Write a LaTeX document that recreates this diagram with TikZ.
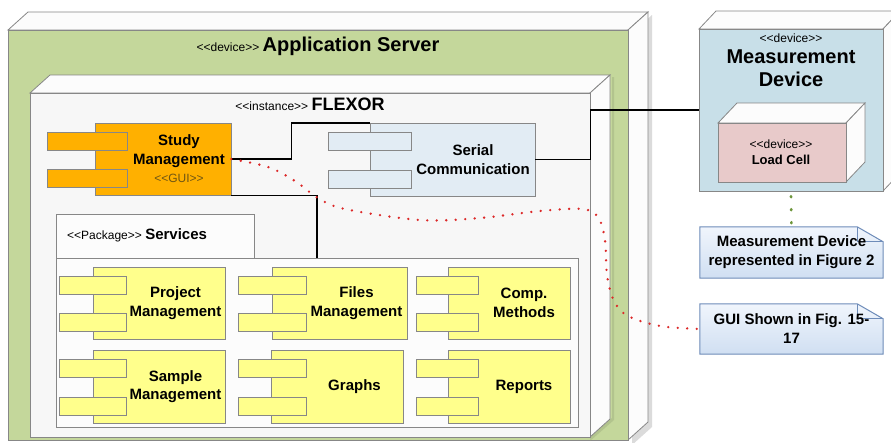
\documentclass[tikz,border=0pt]{standalone}
\usepackage{fontspec}
\setmainfont{Liberation Sans}
\usetikzlibrary{fit}
\definecolor{grn}{RGB}{196,215,155}
\definecolor{edge}{RGB}{135,135,135}
\definecolor{orng}{RGB}{255,176,0}
\definecolor{ylw}{RGB}{255,255,140}
\definecolor{serialc}{RGB}{226,236,244}
\definecolor{mdc}{RGB}{200,223,232}
\definecolor{lcc}{RGB}{232,202,202}
\definecolor{notec}{RGB}{208,223,242}
\definecolor{notetop}{RGB}{240,245,252}
\definecolor{notee}{RGB}{110,140,185}
\definecolor{reddot}{RGB}{220,40,40}
\definecolor{grndot}{RGB}{110,150,60}
\definecolor{guic}{RGB}{110,85,20}
\definecolor{flexfront}{RGB}{247,247,247}
\definecolor{facec}{RGB}{252,252,252}
\newcommand\lguil{<\kern0pt<}
\newcommand\rguil{>\kern0pt>}
\newcommand\stereofont{\mdseries\fontsize{12}{14}\selectfont}
% 3D box: x1 y1 x2 y2 dx dy frontfill facefill
\newcommand\boxthree[8]{%
  \filldraw[fill=#8, draw=edge, line width=0.8pt] (#1,#2) -- (#1+#5,#2-#6) -- (#3+#5,#2-#6) -- (#3,#2) -- cycle;
  \filldraw[fill=#8, draw=edge, line width=0.8pt] (#3,#2) -- (#3+#5,#2-#6) -- (#3+#5,#4-#6) -- (#3,#4) -- cycle;
  \filldraw[fill=#7, draw=edge, line width=0.8pt] (#1,#2) rectangle (#3,#4);
}
% component: name fill bx1 by1 bx2 by2 px1 px2 text
\newcommand\umlcomp[9]{%
  \node[compbody, fill=#2, fit={(#3,#4) (#5,#6)}] (#1) {};
  \node[compbody, fill=#2, fit={(#7,#4+9) (#8,#4+27)}] (#1p1) {};
  \node[compbody, fill=#2, fit={(#7,#6-26) (#8,#6-8)}] (#1p2) {};
  \node[comptext] (#1t) at ({(#8+#5)/2},{(#4+#6)/2}) {#9};
}
\newcommand\notebox[1]{%
  \shade[top color=notetop, bottom color=notec] (#1.north west) -- ([xshift=-26pt]#1.north east) -- ([yshift=-15pt]#1.north east) -- (#1.south east) -- (#1.south west) -- cycle;
  \draw[notee, line width=1pt] (#1.north west) -- ([xshift=-26pt]#1.north east) -- ([yshift=-15pt]#1.north east) -- (#1.south east) -- (#1.south west) -- cycle;
  \draw[notee, line width=0.8pt] ([xshift=-26pt]#1.north east) |- ([yshift=-15pt]#1.north east);
}
\begin{document}
\begin{tikzpicture}[x=1pt,y=-1pt,
  compbody/.style={draw=edge, line width=0.8pt, inner sep=0pt},
  comptext/.style={align=center, inner sep=0pt, font=\bfseries\fontsize{15}{18.5}\selectfont},
  pkg/.style={draw=edge, line width=0.8pt, fill=facec, inner sep=0pt},
  conn/.style={line width=1.8pt, black},
  reddots/.style={draw=reddot, line width=2.6pt, line cap=round, dash pattern=on 0pt off 9.5pt},
  grndots/.style={draw=grndot, line width=2.6pt, line cap=round, dash pattern=on 1pt off 12pt},
  notetext/.style={align=center, inner sep=0pt, font=\bfseries\fontsize{15}{19}\selectfont}]
\clip (0,0) rectangle (891,442);
\fill[white] (0,0) rectangle (891,442);

% Application Server
\fill[black!14] (632,33) -- (652,15) -- (652,427) -- (632,445) -- cycle;
\boxthree{8}{30}{628}{440}{20}{18}{grn}{facec}
\node[fit={(8,30) (628,440)}, inner sep=0pt] (app) {};
\node[anchor=base, inner sep=0pt] (apptitle) at (318,51) {\stereofont\lguil device\rguil\ \bfseries\fontsize{20}{24}\selectfont Application Server};

% FLEXOR
\fill[grn!75!black, opacity=0.35] (612,77) -- (614,77) -- (614,420) -- (590,441) -- (590,437) -- (612,418) -- cycle;
\boxthree{30}{93}{590}{437}{20}{18}{flexfront}{facec}
\node[fit={(30,93) (590,437)}, inner sep=0pt] (flexor) {};
\node[anchor=base, inner sep=0pt] (flextitle) at (310,110) {\stereofont\lguil instance\rguil\ \bfseries\fontsize{18}{22}\selectfont FLEXOR};

% Services package
\node[pkg, fit={(56,214) (254,258)}] (svctab) {};
\node[pkg, fit={(56,258) (578,427)}] (svc) {};
\node[anchor=base west, inner sep=0pt] (svclabel) at (67,239) {\stereofont\lguil Package\rguil\ \bfseries\fontsize{15}{18}\selectfont Services};

% components
\umlcomp{study}{orng}{95}{123}{231}{195}{47}{127}{Study\\Management\\{\stereofont\color{guic}\lguil GUI\rguil}}
\umlcomp{serial}{serialc}{370}{123}{535}{196}{328}{411}{Serial\\Communication}
\umlcomp{proj}{ylw}{93}{267}{225}{339}{59}{126}{Project\\Management}
\umlcomp{files}{ylw}{272}{267}{407}{339}{238}{306}{Files\\Management}
\umlcomp{compm}{ylw}{448}{267}{570}{339}{416}{478}{Comp.\\Methods}
\umlcomp{sample}{ylw}{93}{350}{225}{423}{59}{126}{Sample\\Management}
\umlcomp{graphs}{ylw}{271}{350}{403}{423}{238}{306}{Graphs}
\umlcomp{reports}{ylw}{448}{350}{570}{423}{416}{478}{Reports}

% Measurement Device
\boxthree{699}{29}{883}{191}{17}{18}{mdc}{facec}
\node[fit={(699,29) (883,191)}, inner sep=0pt] (md) {};
\node[inner sep=0pt] (mdst) at (791,38) {\stereofont\lguil device\rguil};
\node[align=center, inner sep=0pt, font=\bfseries\fontsize{20}{23}\selectfont] (mdname) at (791,68.5) {Measurement\\Device};

% Load Cell
\boxthree{718}{123}{846}{182}{19}{20}{lcc}{facec}
\node[fit={(718,123) (846,182)}, inner sep=0pt] (lc) {};
\node[inner sep=0pt] (lcst) at (781,144) {\stereofont\lguil device\rguil};
\node[inner sep=0pt, font=\bfseries\fontsize{13}{15}\selectfont] (lcname) at (781,159.5) {Load Cell};

% Notes
\path node[minimum width=183pt, minimum height=51pt, inner sep=0pt] (note1) at (791.5,252.5) {};
\notebox{note1}
\node[notetext] (note1t) at (note1.center) {Measurement Device\\represented in Figure 2};
\path node[minimum width=183pt, minimum height=50pt, inner sep=0pt] (note2) at (791.5,329) {};
\notebox{note2}
\node[notetext] (note2t) at (note2.center) {GUI Shown in Fig. 15-\\17};

% connectors
\draw[conn] (study.east) -- ++(60,0) |- (serial.north west);
\draw[conn] (study.south east) -| (svc.north);
\draw[conn] (serial.east) -- ++(55,0) |- (md.west);
\draw[grndots] (md.south) ++(0,5) -- (note1.north);
\draw[reddots] plot[smooth, tension=0.55] coordinates {(study.east) (268,167) (295,181) (318,198) (345,209) (420,220) (480,218) (540,211) (582,209) (598,217) (605,240) (607,275) (614,301) (628,316) (660,326) (note2.west)};
\end{tikzpicture}
\end{document}
